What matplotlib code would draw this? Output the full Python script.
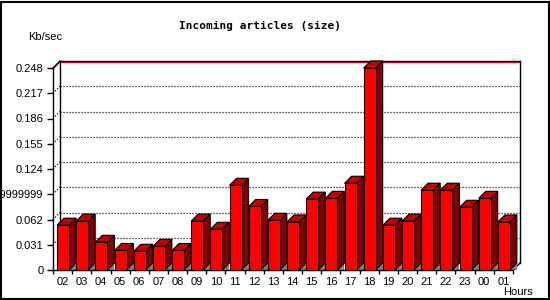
import matplotlib
matplotlib.use('Agg')
import numpy as np
from matplotlib import pyplot as plt
from matplotlib.patches import Rectangle, Polygon

hours = ['02', '03', '04', '05', '06', '07', '08', '09', '10', '11', '12', '13',
         '14', '15', '16', '17', '18', '19', '20', '21', '22', '23', '00', '01']
kbsec = [0.055, 0.060, 0.034, 0.024, 0.023, 0.029, 0.024, 0.060, 0.050, 0.104,
         0.078, 0.061, 0.059, 0.087, 0.088, 0.1065, 0.248, 0.055, 0.060, 0.098,
         0.098, 0.077, 0.088, 0.059]
yticks = [0, 0.031, 0.062, 0.093, 0.124, 0.155, 0.186, 0.217, 0.248]
ytick_labels = ['0', '0.031', '0.062', '0.09299999999999999', '0.124', '0.155',
                '0.186', '0.217', '0.248']

W, H = 550, 300
fig = plt.figure(figsize=(W / 100, H / 100), dpi=100)
# plot front plane in pixels: x 53..513, y 68..270
ax = fig.add_axes([53 / W, 30 / H, 460 / W, 202 / H])
ymax = 0.248
n = len(hours)
ax.set_xlim(0, n)
ax.set_ylim(0, ymax)

# 3D depth (7 px right / 7 px up) in data units
dx = 7 / (460 / n)
dy = 7 * ymax / 202
px_y = ymax / 202

font = 'Liberation Sans'
for s in ['top', 'right']:
    ax.spines[s].set_visible(False)
for s in ['left', 'bottom']:
    ax.spines[s].set_linewidth(1.0)
ax.set_yticks(yticks)
ax.set_yticklabels(ytick_labels, fontsize=8, family=font)
ax.tick_params(axis='y', direction='out', length=4, width=1, pad=3)
ax.set_xticks(np.arange(n + 1))
ax.set_xticklabels([])
ax.tick_params(axis='x', which='major', direction='out', length=3, width=1)
ax.set_xticks(np.arange(n) + 0.5, minor=True)
ax.set_xticklabels(hours, minor=True, fontsize=8, family=font)
ax.tick_params(axis='x', which='minor', length=0, pad=5)

# back plane and grid
dots = (0, (0.9, 1.5))
for v in yticks[1:-1]:
    ax.plot([dx, n + dx], [v + dy, v + dy], color='black', lw=0.9,
            ls=dots, clip_on=False, zorder=1)
    ax.plot([0, dx], [v, v + dy], color='black', lw=0.9,
            ls=dots, clip_on=False, zorder=1)
top = ymax + dy
ax.plot([dx, n + dx], [top - px_y, top - px_y], color='red', lw=0.8, clip_on=False, zorder=1)
ax.plot([0, dx], [ymax - px_y, top - px_y], color='red', lw=0.8, clip_on=False, zorder=1)
ax.plot([dx, n + dx], [top, top], color='black', lw=1, clip_on=False, zorder=1)
ax.plot([dx, dx], [dy, top], color='black', lw=1, clip_on=False, zorder=1)
ax.plot([n + dx, n + dx], [dy, top], color='black', lw=1, clip_on=False, zorder=1)
ax.plot([n, n + dx], [0, dy], color='black', lw=1, clip_on=False, zorder=1)
ax.plot([0, dx], [ymax, top], color='black', lw=1, clip_on=False, zorder=1)

# bars
off, bw = 0.21, 0.626
for i, h in enumerate(kbsec):
    x0 = i + off
    x1 = x0 + bw
    ax.add_patch(Polygon([(x1, 0), (x1 + dx, 0), (x1 + dx, dy)], closed=True,
                         facecolor='#808080', edgecolor='none', zorder=2, clip_on=False))
    ax.add_patch(Polygon([(x1, 0), (x1 + dx, dy), (x1 + dx, h + dy), (x1, h)], closed=True,
                         facecolor='#800000', edgecolor='black', lw=0.8, zorder=3, clip_on=False))
    ax.add_patch(Polygon([(x0, h), (x1, h), (x1 + dx, h + dy), (x0 + dx, h + dy)], closed=True,
                         facecolor='#c00000', edgecolor='black', lw=0.8, zorder=3, clip_on=False))
    ax.add_patch(Rectangle((x0, 0), bw, h, facecolor='#ff0000', edgecolor='black',
                           lw=0.8, zorder=4, clip_on=False))

fig.text(260 / W, 1 - 26 / H, 'Incoming articles (size)', family='DejaVu Sans Mono',
         weight='bold', fontsize=8, ha='center', va='center')
fig.text(45 / W, 1 - 37 / H, 'Kb/sec', family=font, fontsize=8, ha='center', va='center')
fig.text(518 / W, 1 - 292 / H, 'Hours', family=font, fontsize=8, ha='center', va='center')

# image frame
fig.patches.append(Rectangle((0.5 / W, 1.5 / H), 548 / W, 297 / H, transform=fig.transFigure,
                             fill=False, edgecolor='black', lw=1.5))

fig.savefig('out.png', dpi=100, facecolor='white')
